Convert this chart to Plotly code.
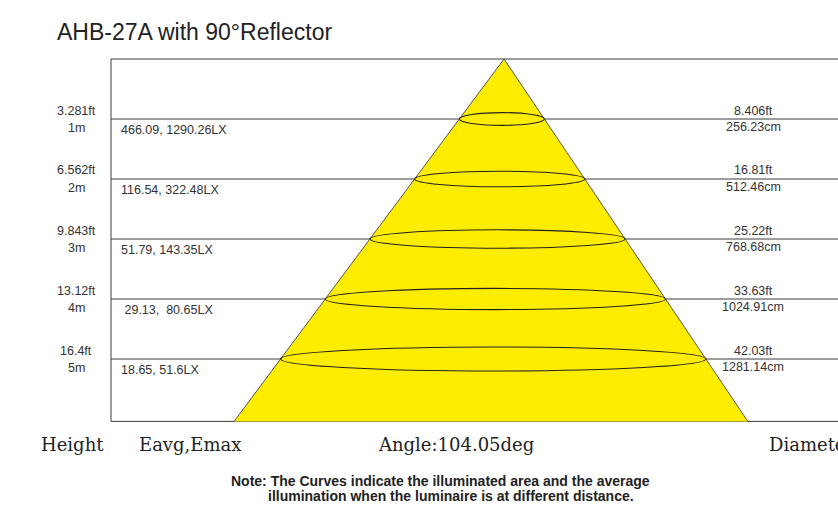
import numpy as np
import plotly.graph_objects as go

# data
heights_m = [1, 2, 3, 4, 5]
height_m_labels = ["1m", "2m", "3m", "4m", "5m"]
height_ft_labels = ["3.281ft", "6.562ft", "9.843ft", "13.12ft", "16.4ft"]
illum_labels = ["466.09, 1290.26LX", "116.54, 322.48LX", "51.79,\u00a0143.35LX",
                "\u00a029.13,\u00a0 80.65LX", "18.65,\u00a051.6LX"]
diam_cm = [256.23, 512.46, 768.68, 1024.91, 1281.14]
diam_ft_labels = ["8.406ft", "16.81ft", "25.22ft", "33.63ft", "42.03ft"]
beam_angle = 104.05
title = "AHB-27A with 90°Reflector"

# drawing geometry, in pixels of the 838x520 window
W, H = 838, 520
APEX_X, SCALE_X = 504, 33.2       # px where cone starts, px per metre across
Y0, SCALE_Y = 59, 60              # px of the top line, px per metre of height
BASE_H = 6.04                     # frame bottom in metres
LEAN = -0.0648                    # cone centre drift per metre of height
FRAME_X = 111

def px(x):
    return x / W

def py(y):
    return 1 - y / H

def ypix(h):
    return Y0 + SCALE_Y * h

half = np.tan(np.radians(beam_angle / 2))
fig = go.Figure()

# cone
cx_base = LEAN * BASE_H
fig.add_trace(go.Scatter(
    x=[cx_base - half * BASE_H, 0, cx_base + half * BASE_H],
    y=[BASE_H, 0, BASE_H],
    mode="lines", fill="toself", fillcolor="#FFED00",
    line=dict(color="#555555", width=1), hoverinfo="skip", showlegend=False,
))

shapes = []
line_col = "#3c3c3c"
# frame
for h in [0] + heights_m + [BASE_H]:
    shapes.append(dict(type="line", xref="paper", yref="y", x0=px(FRAME_X), x1=1,
                       y0=h, y1=h, line=dict(color=line_col, width=1), layer="below"))
shapes.append(dict(type="line", xref="paper", yref="y", x0=px(FRAME_X), x1=px(FRAME_X),
                   y0=0, y1=BASE_H, line=dict(color=line_col, width=1), layer="below"))

# illuminated area ellipses
for h, d in zip(heights_m, diam_cm):
    r = d / 200
    c = LEAN * h
    rv = (5 + 1.4 * h) / SCALE_Y
    shapes.append(dict(type="circle", xref="x", yref="y", x0=c - r, x1=c + r,
                       y0=h - rv, y1=h + rv, line=dict(color="#222222", width=1.1),
                       layer="above"))

ann = []
small = dict(family="Liberation Sans, Arial", size=12.5, color="#333333")
for h, hm, hf, il, dc, dfl in zip(heights_m, height_m_labels, height_ft_labels,
                                  illum_labels, diam_cm, diam_ft_labels):
    yl = ypix(h)
    ann.append(dict(text=hf, x=px(76), y=py(yl - 8.5), xanchor="center", yanchor="middle", font=small))
    ann.append(dict(text=hm, x=px(76), y=py(yl + 8.5), xanchor="center", yanchor="middle", font=small))
    ann.append(dict(text=il, x=px(119), y=py(yl + 11), xanchor="left", yanchor="middle", font=small))
    ann.append(dict(text=dfl, x=px(753), y=py(yl - 8.5), xanchor="center", yanchor="middle", font=small))
    ann.append(dict(text=f"{dc:.2f}cm", x=px(753), y=py(yl + 8), xanchor="center", yanchor="middle", font=small))

serif = dict(family="DejaVu Serif, Liberation Serif", size=18, color="#222222")
ann.append(dict(text="Height", x=px(72), y=py(444), xanchor="center", yanchor="middle", font=serif))
ann.append(dict(text="Eavg,Emax", x=px(190), y=py(444), xanchor="center", yanchor="middle", font=serif))
ann.append(dict(text=f"Angle:{beam_angle:.2f}deg", x=px(456), y=py(444), xanchor="center",
                yanchor="middle", font=serif))
ann.append(dict(text="Diameter", x=px(767), y=py(444), xanchor="left", yanchor="middle", font=serif))

note = dict(family="Liberation Sans, Arial", size=14, color="#222222")
ann.append(dict(text="<b>Note: The Curves indicate the illuminated area and the average</b>",
                x=px(440), y=py(481), xanchor="center", yanchor="middle", font=note))
ann.append(dict(text="<b>illumination when the luminaire is at different distance.</b>",
                x=px(451), y=py(496), xanchor="center", yanchor="middle", font=note))

ann.append(dict(text=title, x=px(55), y=py(32), xanchor="left", yanchor="middle",
                font=dict(family="Liberation Sans, Arial", size=23, color="#222222")))

for a in ann:
    a.update(xref="paper", yref="paper", showarrow=False)

fig.update_layout(
    width=W, height=H,
    margin=dict(l=0, r=0, t=0, b=0),
    paper_bgcolor="white", plot_bgcolor="white",
    xaxis=dict(range=[-APEX_X / SCALE_X, (W - APEX_X) / SCALE_X], visible=False, fixedrange=True),
    yaxis=dict(range=[(H - Y0) / SCALE_Y, -Y0 / SCALE_Y], visible=False, fixedrange=True),
    shapes=shapes, annotations=ann, showlegend=False,
)

# page without body margin so the figure fills the window
fig.write_html("out.html", config={"displayModeBar": False},
               post_script="document.body.style.margin='0';document.body.style.overflow='hidden';")
